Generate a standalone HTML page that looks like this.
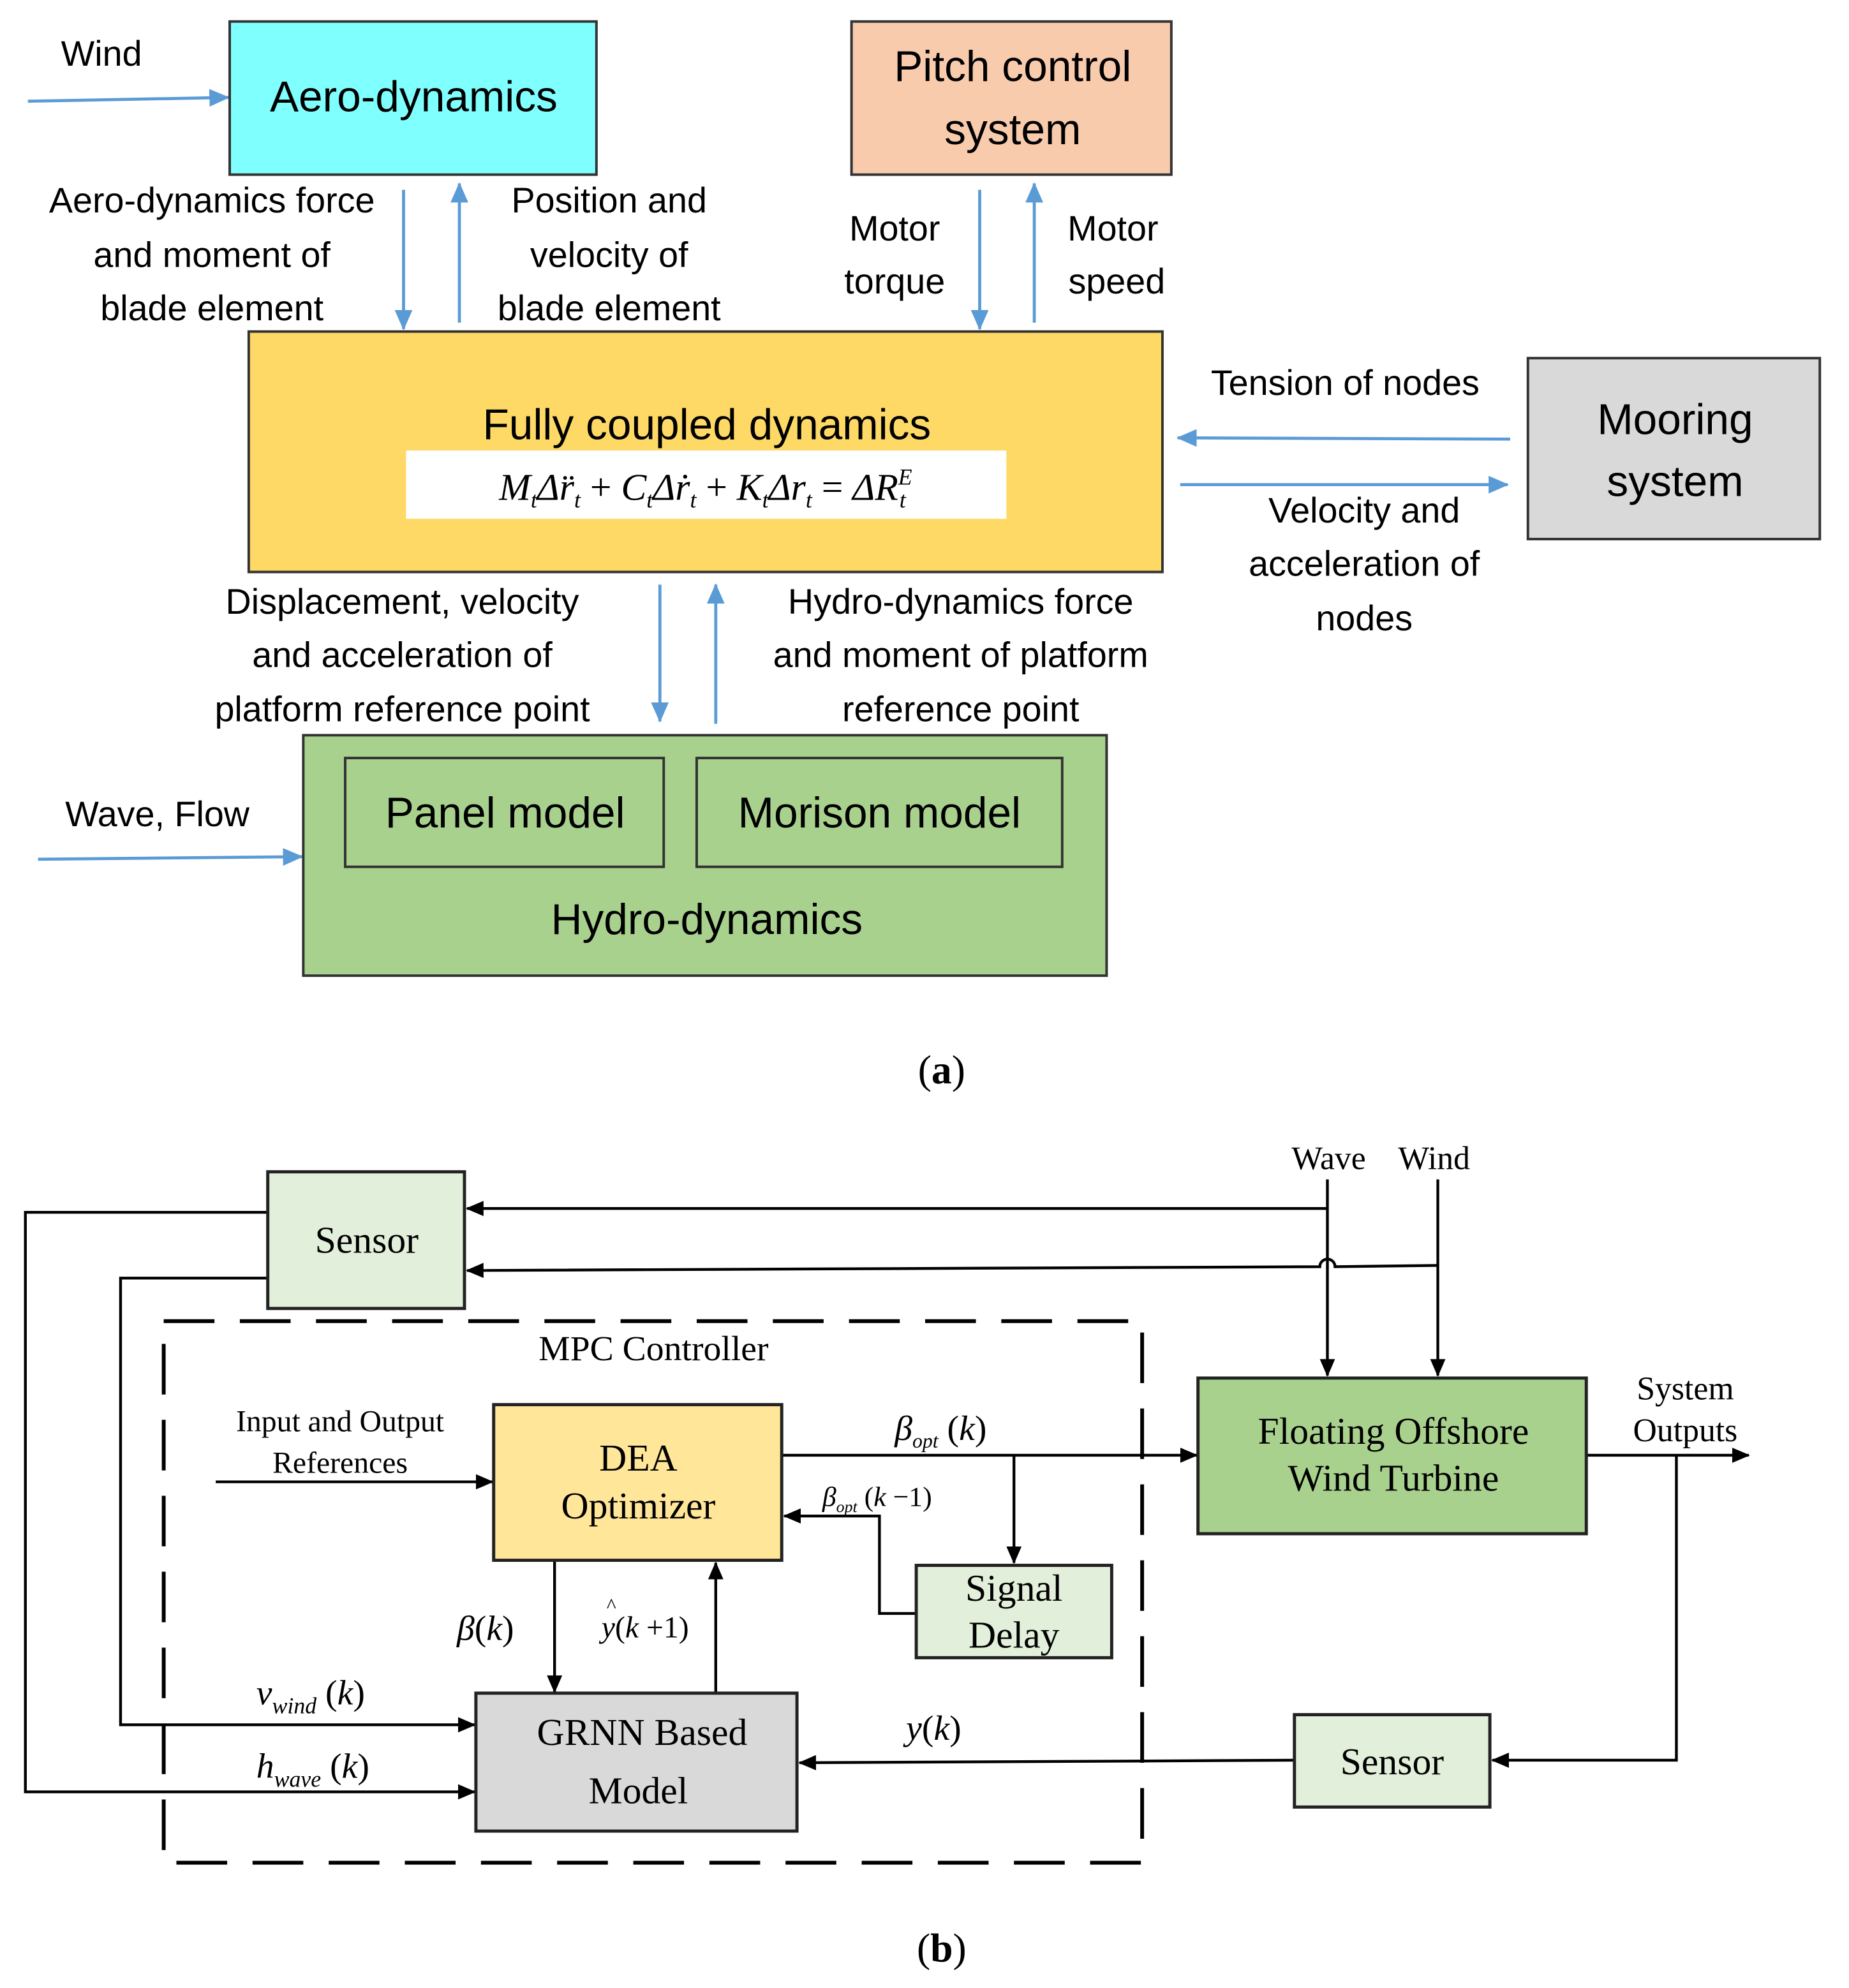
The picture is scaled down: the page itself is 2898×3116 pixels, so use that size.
<!DOCTYPE html>
<html><head><meta charset="utf-8"><style>
html,body{margin:0;padding:0;background:#fff;}
svg{display:block;}
.s{font-family:"Liberation Sans",sans-serif;fill:#000;}
.r{font-family:"Liberation Serif",serif;fill:#000;}
</style></head><body>
<svg width="2898" height="3116" viewBox="0 0 1457 1571" preserveAspectRatio="none" xmlns="http://www.w3.org/2000/svg">
<defs>
<marker id="ba" markerWidth="16" markerHeight="14" refX="15" refY="7" orient="auto" markerUnits="userSpaceOnUse"><path d="M0,0 L16,7 L0,14 z" fill="#5b9bd5"/></marker>
<marker id="ka" markerWidth="14" markerHeight="14" refX="13" refY="7" orient="auto" markerUnits="userSpaceOnUse"><path d="M0,1 L14,7 L0,13 z" fill="#000"/></marker>
</defs>
<g stroke="#5b9bd5" stroke-width="2.4" fill="none" marker-end="url(#ba)">
<line x1="22" y1="80" x2="180" y2="77"/>
<line x1="318" y1="150" x2="318" y2="260"/>
<line x1="362" y1="255" x2="362" y2="145"/>
<line x1="772" y1="150" x2="772" y2="260"/>
<line x1="815" y1="255" x2="815" y2="145"/>
<line x1="1190" y1="347" x2="928" y2="346"/>
<line x1="930" y1="383" x2="1188" y2="383"/>
<line x1="520" y1="462" x2="520" y2="570"/>
<line x1="564" y1="572" x2="564" y2="462"/>
<line x1="30" y1="679" x2="238" y2="677"/>
</g>
<g stroke="#333" stroke-width="2">
<rect x="181" y="17" width="289" height="121" fill="#80ffff"/>
<rect x="671" y="17" width="252" height="121" fill="#f8cbad"/>
<rect x="196" y="262" width="720" height="190" fill="#ffd966"/>
<rect x="1204" y="283" width="230" height="143" fill="#d9d9d9"/>
<rect x="239" y="581" width="633" height="190" fill="#a9d18e"/>
<rect x="272" y="599" width="251" height="86" fill="#a9d18e"/>
<rect x="549" y="599" width="288" height="86" fill="#a9d18e"/>
</g>
<rect x="320" y="356" width="473" height="54" fill="#fff"/>
<g class="s" font-size="28" text-anchor="middle">
<text x="80" y="52">Wind</text>
<text x="326" y="88" font-size="34">Aero-dynamics</text>
<text x="798" y="64" font-size="34">Pitch control</text>
<text x="798" y="114" font-size="34">system</text>
<text x="167" y="168">Aero-dynamics force</text>
<text x="167" y="211">and moment of</text>
<text x="167" y="253">blade element</text>
<text x="480" y="168">Position and</text>
<text x="480" y="211">velocity of</text>
<text x="480" y="253">blade element</text>
<text x="705" y="190">Motor</text>
<text x="705" y="232">torque</text>
<text x="877" y="190">Motor</text>
<text x="880" y="232">speed</text>
<text x="557" y="347" font-size="34">Fully coupled dynamics</text>
<text x="1320" y="343" font-size="34">Mooring</text>
<text x="1320" y="392" font-size="34">system</text>
<text x="1060" y="312">Tension of nodes</text>
<text x="1075" y="413">Velocity and</text>
<text x="1075" y="455">acceleration of</text>
<text x="1075" y="498">nodes</text>
<text x="317" y="485">Displacement, velocity</text>
<text x="317" y="527">and acceleration of</text>
<text x="317" y="570">platform reference point</text>
<text x="757" y="485">Hydro-dynamics force</text>
<text x="757" y="527">and moment of platform</text>
<text x="757" y="570">reference point</text>
<text x="398" y="654" font-size="34">Panel model</text>
<text x="693" y="654" font-size="34">Morison model</text>
<text x="557" y="738" font-size="34">Hydro-dynamics</text>
<text x="124" y="653">Wave, Flow</text>
</g>
<text class="r" x="556" y="395" font-size="30" font-style="italic" text-anchor="middle">M<tspan font-size="18" dy="6">t</tspan><tspan dy="-6">Δr̈</tspan><tspan font-size="18" dy="6">t</tspan><tspan dy="-6" font-style="normal"> + </tspan>C<tspan font-size="18" dy="6">t</tspan><tspan dy="-6">Δṙ</tspan><tspan font-size="18" dy="6">t</tspan><tspan dy="-6" font-style="normal"> + </tspan>K<tspan font-size="18" dy="6">t</tspan><tspan dy="-6">Δr</tspan><tspan font-size="18" dy="6">t</tspan><tspan dy="-6" font-style="normal"> = </tspan>ΔR<tspan font-size="18" dy="-12">E</tspan><tspan font-size="18" dx="-10" dy="18">t</tspan></text>
<text class="r" x="742" y="856" font-size="32" text-anchor="middle">(<tspan font-weight="bold">a</tspan>)</text>

<g stroke="#000" stroke-width="2.2" fill="none">
<rect x="129" y="1044" width="771" height="428" stroke-width="3" stroke-dasharray="40 20"/>
<g marker-end="url(#ka)">
<line x1="1046" y1="932" x2="1046" y2="1087"/>
<line x1="1133" y1="932" x2="1133" y2="1087"/>
<line x1="1046" y1="955" x2="368" y2="955"/>
<path d="M1133,1000 L1052,1001 A6,6 0 0 0 1040,1001 L368,1004"/>
<polyline points="211,958 20,958 20,1416 374,1416"/>
<polyline points="211,1010 95,1010 95,1363 374,1363"/>
<line x1="170" y1="1171" x2="388" y2="1171"/>
<line x1="616" y1="1150" x2="943" y2="1150"/>
<line x1="799" y1="1150" x2="799" y2="1235"/>
<polyline points="722,1275 693,1275 693,1198 618,1198"/>
<line x1="1250" y1="1150" x2="1378" y2="1150"/>
<polyline points="1321,1150 1321,1391 1176,1391"/>
<line x1="1020" y1="1391" x2="630" y2="1393"/>
<line x1="437" y1="1233" x2="437" y2="1337"/>
<line x1="564" y1="1337" x2="564" y2="1235"/>
</g>
</g>
<g stroke="#222" stroke-width="2.5">
<rect x="211" y="926" width="155" height="108" fill="#e2efda"/>
<rect x="389" y="1110" width="227" height="123" fill="#ffe699"/>
<rect x="722" y="1237" width="154" height="73" fill="#e2efda"/>
<rect x="944" y="1089" width="306" height="123" fill="#a9d18e"/>
<rect x="1020" y="1355" width="154" height="73" fill="#e2efda"/>
<rect x="375" y="1338" width="253" height="109" fill="#d9d9d9"/>
</g>
<g class="r" text-anchor="middle" font-size="30">
<text x="289" y="990">Sensor</text>
<text x="1047" y="924" font-size="26">Wave</text>
<text x="1130" y="924" font-size="26">Wind</text>
<text x="515" y="1075" font-size="28">MPC Controller</text>
<text x="268" y="1131" font-size="24">Input and Output</text>
<text x="268" y="1164" font-size="24">References</text>
<text x="503" y="1162">DEA</text>
<text x="503" y="1200">Optimizer</text>
<text x="799" y="1265">Signal</text>
<text x="799" y="1302">Delay</text>
<text x="1098" y="1141">Floating Offshore</text>
<text x="1098" y="1178">Wind Turbine</text>
<text x="1328" y="1106" font-size="26">System</text>
<text x="1328" y="1139" font-size="26">Outputs</text>
<text x="1097" y="1402">Sensor</text>
<text x="506" y="1379">GRNN Based</text>
<text x="503" y="1425">Model</text>
</g>
<g class="r" font-style="italic" font-size="28">
<text x="705" y="1138">β<tspan font-size="16" dy="6">opt</tspan><tspan font-style="normal" dy="-6"> (</tspan>k<tspan font-style="normal">)</tspan></text>
<text x="648" y="1190" font-size="22">β<tspan font-size="13" dy="5">opt</tspan><tspan font-style="normal" dy="-5"> (</tspan>k<tspan font-style="normal"> −1)</tspan></text>
<text x="360" y="1296">β<tspan font-style="normal">(</tspan>k<tspan font-style="normal">)</tspan></text>
<text x="474" y="1294" font-size="24">y<tspan font-style="normal">(</tspan>k<tspan font-style="normal"> +1)</tspan></text>
<text x="478" y="1274" font-size="16" font-style="normal">^</text>
<text x="714" y="1375">y<tspan font-style="normal">(</tspan>k<tspan font-style="normal">)</tspan></text>
<text x="202" y="1347">v<tspan font-size="18" dy="7">wind</tspan><tspan font-style="normal" dy="-7"> (</tspan>k<tspan font-style="normal">)</tspan></text>
<text x="202" y="1405">h<tspan font-size="18" dy="7">wave</tspan><tspan font-style="normal" dy="-7"> (</tspan>k<tspan font-style="normal">)</tspan></text>
</g>
<text class="r" x="742" y="1550" font-size="32" text-anchor="middle">(<tspan font-weight="bold">b</tspan>)</text>
</svg>
</body></html>
